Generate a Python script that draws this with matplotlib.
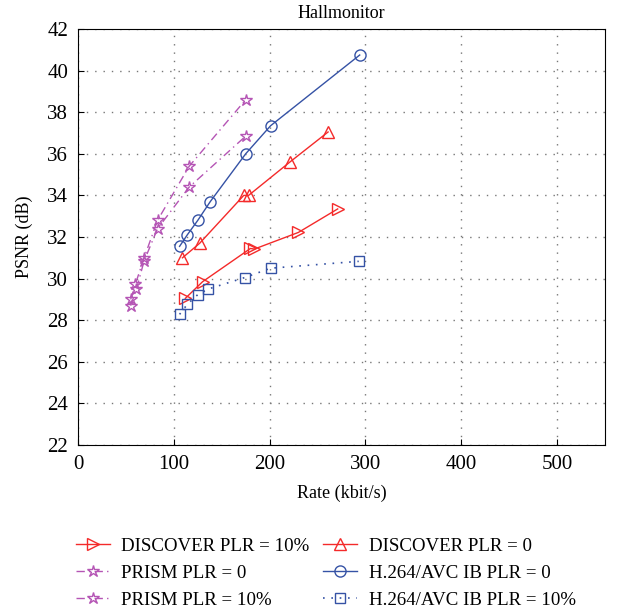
import matplotlib.pyplot as plt

plt.rcParams['font.family'] = ['Liberation Serif', 'DejaVu Serif']

# DISCOVER
disc10_rate = [112, 130, 180, 184, 230, 271]
disc10_psnr = [29.05, 29.85, 31.45, 31.42, 32.22, 33.35]
disc0_rate = [109, 127, 173, 178, 221, 261]
disc0_psnr = [31.0, 31.7, 34.0, 34.0, 35.6, 37.05]

# PRISM
prism0_rate = [55, 60, 69, 83, 116, 175]
prism0_psnr = [29.0, 29.75, 31.0, 32.8, 35.4, 38.6]
prism10_rate = [55, 61, 69, 83, 116, 175]
prism10_psnr = [28.7, 29.5, 30.85, 32.4, 34.4, 36.85]

# H.264/AVC intra
h264_0_rate = [106, 114, 125, 138, 175, 201, 294]
h264_0_psnr = [31.55, 32.1, 32.8, 33.7, 36.0, 37.35, 40.75]
h264_10_rate = [106, 114, 125, 136, 174, 201, 293]
h264_10_psnr = [28.28, 28.76, 29.23, 29.5, 30.05, 30.5, 30.83]

red = '#f42a2a'
mag = '#b555b5'
blue = '#3552a5'

fig = plt.figure(figsize=(6.25, 6.11), dpi=100)
ax = fig.add_axes([0.1248, 0.2717, 0.8432, 0.6808])

l1, = ax.plot(disc10_rate, disc10_psnr, color=red, lw=1, marker='>', ms=9,
              mfc='none', mec=red, label='DISCOVER PLR = 10%')
l4, = ax.plot(disc0_rate, disc0_psnr, color=red, lw=1, marker='^', ms=9,
              mfc='none', mec=red, label='DISCOVER PLR = 0')
l2, = ax.plot(prism0_rate, prism0_psnr, color=mag, lw=1, ls=(0, (6, 3, 1, 3)),
              marker='*', ms=9, mfc='none', mec=mag, label='PRISM PLR = 0')
l3, = ax.plot(prism10_rate, prism10_psnr, color=mag, lw=1, ls=(0, (6, 3, 1, 3)),
              marker='*', ms=9, mfc='none', mec=mag, label='PRISM PLR = 10%')
l5, = ax.plot(h264_0_rate, h264_0_psnr, color=blue, lw=1, marker='o', ms=8,
              mfc='none', mec=blue, label='H.264/AVC IB PLR = 0')
l6, = ax.plot(h264_10_rate, h264_10_psnr, color=blue, lw=1.2, ls=(0, (1, 4)),
              marker='s', ms=6.5, mfc='none', mec=blue, label='H.264/AVC IB PLR = 10%')

ax.set_xlim(0, 550)
ax.set_ylim(22, 42)
ax.set_xticks([0, 100, 200, 300, 400, 500])
ax.set_yticks(range(22, 43, 2))
ax.grid(True, color='#777777', ls=(0, (1, 5)), lw=1)
ax.tick_params(direction='in', labelsize=15, length=4, pad=7)
ax.set_xlabel('Rate (kbit/s)', fontsize=13, labelpad=8)
ax.set_ylabel('PSNR (dB)', fontsize=13, labelpad=10)
ax.set_title('Hallmonitor', fontsize=13, pad=8)

fig.legend(handles=[l1, l2, l3, l4, l5, l6], loc='upper left',
           bbox_to_anchor=(0.109, 0.133), borderaxespad=0, ncol=2,
           frameon=False, fontsize=13.6, handlelength=1.8, handletextpad=0.6,
           columnspacing=0.75, labelspacing=0.52)

fig.savefig('out.png', dpi=100)
